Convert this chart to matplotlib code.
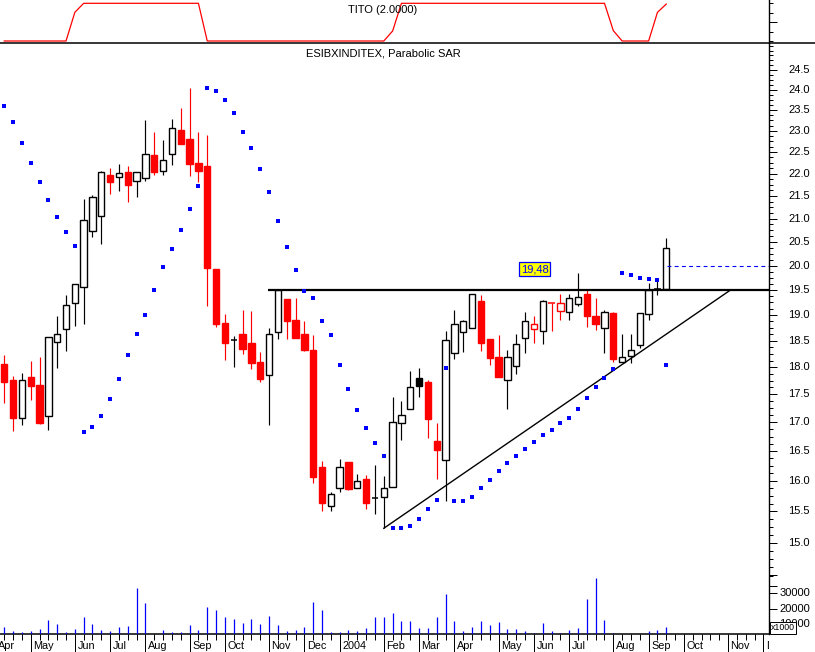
import numpy as np
import pandas as pd
import matplotlib
matplotlib.use("Agg")
import matplotlib.pyplot as plt
from matplotlib.patches import Rectangle
from matplotlib.lines import Line2D
from matplotlib.transforms import Bbox, TransformedBbox, blended_transform_factory, ScaledTranslation
from matplotlib.ticker import FixedLocator, NullFormatter

plt.rcParams['font.family'] = ['Liberation Sans', 'DejaVu Sans']

# ---------------- data (weekly bars, Fridays) ----------------
week_dates = pd.date_range('2003-04-11', periods=76, freq='W-FRI')
axis_dates = pd.date_range('2003-04-04', '2004-12-03', freq='W-FRI')

opens = [18.06, 17.76, 17.07, 17.82, 17.67, 17.11, 18.47, 18.72, 19.24, 19.56,
         20.73, 21.05, 21.97, 21.92, 22.04, 21.83, 21.90, 22.43, 22.06, 22.45,
         23.02, 22.81, 22.25, 22.18, 19.93, 18.85, 18.51, 18.63, 18.46, 18.10,
         17.85, 18.66, 19.32, 18.90, 18.63, 18.33, 16.23, 15.58, 15.88, 16.32,
         15.88, 16.03, 15.71, 15.73, 15.90, 16.98, 17.23, 17.80, 17.73, 16.68,
         16.34, 18.26, 18.66, 18.74, 19.28, 18.53, 18.19, 17.76, 18.02, 18.55,
         18.72, 18.68, 19.24, 19.09, 19.07, 19.21, 19.42, 18.98, 18.74, 19.04,
         18.10, 18.21, 18.41, 19.02, 19.52, 19.53]
highs = [18.23, 17.84, 17.89, 18.12, 18.19, 18.57, 18.98, 19.40, 19.62, 21.43,
         21.52, 22.06, 22.13, 22.23, 22.18, 22.03, 23.26, 22.97, 22.79, 23.29,
         23.55, 24.05, 22.97, 22.90, 19.93, 19.02, 18.59, 19.10, 19.08, 18.29,
         18.75, 19.53, 19.32, 19.34, 18.89, 18.61, 16.33, 15.81, 16.37, 16.32,
         16.11, 16.10, 16.27, 16.08, 17.46, 17.38, 17.93, 17.99, 17.76, 16.98,
         18.69, 19.10, 18.90, 19.41, 19.40, 18.53, 18.61, 18.32, 18.63, 19.06,
         18.98, 19.30, 19.24, 19.42, 19.43, 19.85, 19.50, 19.33, 19.10, 19.07,
         18.64, 18.63, 19.04, 19.64, 19.72, 20.58]
lows = [17.35, 16.84, 16.96, 17.40, 16.97, 16.87, 17.99, 18.31, 18.79, 18.83,
        20.61, 20.46, 21.55, 21.62, 21.37, 21.48, 21.84, 21.98, 21.98, 22.19,
        22.70, 21.96, 21.82, 19.17, 18.77, 18.14, 18.01, 18.25, 17.97, 17.72,
        16.96, 18.54, 18.54, 18.56, 18.31, 15.97, 15.50, 15.51, 15.82, 15.85,
        15.88, 15.53, 15.45, 15.23, 15.89, 16.69, 17.23, 17.46, 16.73, 16.03,
        15.67, 18.16, 18.29, 18.74, 18.31, 18.04, 17.81, 17.23, 17.87, 18.26,
        18.46, 18.44, 18.68, 18.90, 18.90, 19.17, 18.76, 18.71, 18.27, 18.09,
        18.10, 18.08, 18.36, 18.90, 19.40, 19.53]
closes = [17.73, 17.08, 17.76, 17.66, 16.98, 18.57, 18.63, 19.20, 19.62, 20.96,
          21.48, 22.05, 21.82, 22.01, 21.75, 22.03, 22.45, 22.05, 22.31, 23.06,
          22.70, 22.23, 22.07, 19.96, 18.83, 18.46, 18.51, 18.35, 18.07, 17.79,
          18.64, 19.50, 18.89, 18.56, 18.33, 16.07, 15.63, 15.78, 16.23, 15.86,
          15.99, 15.63, 15.71, 15.88, 17.00, 17.13, 17.63, 17.65, 17.05, 16.51,
          18.51, 18.82, 18.88, 19.41, 18.46, 18.18, 17.81, 18.19, 18.43, 18.88,
          18.82, 19.27, 19.24, 19.23, 19.33, 19.35, 18.98, 18.83, 19.06, 18.16,
          18.19, 18.32, 19.04, 19.51, 19.52, 20.36]
sar = [23.60, 23.21, 22.71, 22.24, 21.81, 21.40, 21.04, 20.70, 20.41, 16.83,
       16.91, 17.11, 17.41, 17.78, 18.23, 18.63, 19.00, 19.50, 19.97, 20.34,
       20.75, 21.20, 21.72, 24.05, 23.97, 23.75, 23.43, 22.97, 22.59, 22.11,
       21.59, 20.94, 20.39, 19.90, 19.49, 19.33, 18.89, 18.61, 18.05, 17.59,
       17.22, 16.90, 16.64, 16.41, 15.23, 15.23, 15.27, 15.38, 15.53, 15.69,
       17.98, 15.67, 15.67, 15.73, 15.88, 16.01, 16.16, 16.29, 16.42, 16.53,
       16.65, 16.77, 16.87, 16.98, 17.07, 17.23, 17.43, 17.63, 17.80, 17.96,
       19.85, 19.80, 19.75, 19.73, 19.71, 18.05]
volume = [8200, 5600, 4800, 5400, 6700, 12600, 10200, 5000, 6700, 14600,
          10200, 6100, 5400, 8000, 8700, 33500, 23700, 0, 5900, 4800,
          4800, 9300, 6100, 21100, 19200, 14600, 13300, 10700, 13300, 10000,
          15200, 9300, 5400, 6100, 8000, 24400, 19200, 4800, 4800, 6100,
          5400, 7400, 14600, 14600, 17200, 12000, 12000, 7400, 7400, 14600,
          29600, 12000, 5400, 8000, 12000, 9300, 11300, 6700, 6700, 5400,
          4100, 10800, 5400, 4100, 6100, 7400, 26300, 40100, 12600, 4100,
          0, 0, 0, 5400, 6100, 8000]
tito = [-1, -1, -1, -1, -1, -1, -1, -1, 0.52, 1,
        1, 1, 1, 1, 1, 1, 1, 1, 1, 1,
        1, 1, 1, -1, -1, -1, -1, -1, -1, -1,
        -1, -1, -1, -1, -1, -1, -1, -1, -1, -1,
        -1, -1, -1, -1, -0.47, 1, 1, 1, 1, 1,
        1, 1, 1, 1, 1, 1, 1, 1, 1, 1,
        1, 1, 1, 1, 1, 1, 1, 1, 1, -0.45,
        -1, -1, -1, -1, 0.52, 0.96]

price_ticks = [15.0, 15.5, 16.0, 16.5, 17.0, 17.5, 18.0, 18.5, 19.0, 19.5,
               20.0, 20.5, 21.0, 21.5, 22.0, 22.5, 23.0, 23.5, 24.0, 24.5]
volume_ticks = [10000, 20000, 30000]
tito_ticks = [0]
resistance = 19.5
resistance_from = 29.9          # bar index where the drawn line starts
trend_x = [43, 82.27]            # bar index of the trendline ends
trend_y = [15.23, 19.5]
sar_next = 20.0
price_tag = "19,48"
price_tag_pos = (60.07, 19.93)
title_top = "TITO (2.0000)"
title_main = "ESIBXINDITEX, Parabolic SAR"

# ---------------- figure layout ----------------
W, H = 815, 652
fig = plt.figure(figsize=(W / 100, H / 100), dpi=100)
fig.patch.set_facecolor('white')
PX = 0.72  # points per pixel


def rect(x0, y0, x1, y1):
    return [x0 / W, 1 - y1 / H, (x1 - x0) / W, (y1 - y0) / H]


RIGHT = 768.5
ax_t = fig.add_axes(rect(0, 0, RIGHT, 43))
ax_p = fig.add_axes(rect(0, 43, RIGHT, 634))
ax_v = fig.add_axes(rect(0, 560, RIGHT, 634), sharex=ax_p)

week_idx = np.arange(len(week_dates))
axis_idx = np.array([(d - week_dates[0]).days / 7 for d in axis_dates])
month_idx = [axis_idx[k] for k, d in enumerate(axis_dates) if d.day <= 7]
month_lab = [('2004' if d.month == 1 else d.strftime('%b')) for d in axis_dates if d.day <= 7]

XLIM = (-0.478, 86.58)
for a in (ax_t, ax_p, ax_v):
    a.set_xlim(*XLIM)
    a.set_facecolor('none')
    for s in a.spines.values():
        s.set_visible(False)

# ---------------- TITO panel ----------------
ax_t.plot(week_idx, tito, color='red', lw=0.9)
ax_t.set_ylim(-1.106, 1.175)
ax_t.spines['right'].set_visible(True)
ax_t.spines['right'].set_linewidth(1.0)
ax_t.yaxis.tick_right()
ax_t.yaxis.set_major_locator(FixedLocator(tito_ticks))
ax_t.yaxis.set_minor_locator(FixedLocator([-1, -0.5, 0.5, 1]))
ax_t.tick_params(axis='y', which='major', length=8 * PX, width=PX, labelright=False)
ax_t.tick_params(axis='y', which='minor', length=4 * PX, width=PX)
ax_t.tick_params(axis='x', which='both', bottom=False, labelbottom=False)
fig.text(383 / W, 1 - 10 / H, title_top, ha='center', va='center', fontsize=8)
fig.add_artist(Line2D([0, 1], [1 - 43 / H] * 2, transform=fig.transFigure,
                      color='black', lw=1.1))

# ---------------- price panel ----------------
ax_p.set_yscale('log')
ax_p.set_ylim(13.648, 25.196)
ax_p.spines['right'].set_visible(True)
ax_p.spines['right'].set_linewidth(1.0)
ax_p.spines['bottom'].set_visible(True)
ax_p.spines['bottom'].set_linewidth(1.1)
ax_p.yaxis.tick_right()
ax_p.yaxis.set_major_locator(FixedLocator(price_ticks))
ax_p.yaxis.set_minor_locator(FixedLocator(np.arange(14.5, 25.2, 0.125)))
ax_p.yaxis.set_minor_formatter(NullFormatter())
ax_p.tick_params(axis='y', which='major', length=8 * PX, width=PX, labelright=False)
ax_p.tick_params(axis='y', which='minor', length=4 * PX, width=PX)
ax_p.xaxis.set_major_locator(FixedLocator(month_idx))
ax_p.xaxis.set_minor_locator(FixedLocator(axis_idx))
ax_p.tick_params(axis='x', which='major', length=18 * PX, width=PX, direction='out',
                 labelbottom=False)
ax_p.tick_params(axis='x', which='minor', length=6 * PX, width=PX, direction='out')

ytr = blended_transform_factory(fig.transFigure, ax_p.transData)
for p in price_ticks:
    ax_p.text(810 / W, p, f'{p:.1f}', transform=ytr, ha='right', va='center',
              fontsize=8, clip_on=False)
fig.text(383 / W, 1 - 53 / H, title_main, ha='center', va='center', fontsize=8)

# candles
bw = 0.72
prev = None
for i in range(len(week_idx)):
    o, h, l, c = opens[i], highs[i], lows[i], closes[i]
    ref = o if prev is None else prev
    col = 'red' if c < ref else 'black'
    ax_p.vlines(i, l, h, color=col, lw=0.85, zorder=2)
    if abs(c - o) < 1e-9:
        ax_p.hlines(c, i - bw / 2, i + bw / 2, color=col, lw=1.1, zorder=3)
    else:
        face = col if c < o else 'white'
        ax_p.add_patch(Rectangle((i - bw / 2, min(o, c)), bw, abs(c - o),
                                 facecolor=face, edgecolor=col, lw=1.0, zorder=3))
    prev = c

ax_p.plot(week_idx, sar, 's', color='blue', ms=2.9, mew=0, zorder=5)
ax_p.hlines(resistance, resistance_from, XLIM[1], color='black', lw=1.6, zorder=4)
ax_p.plot(trend_x, trend_y, color='black', lw=1.0, zorder=4)
ax_p.hlines(sar_next, week_idx[-1] + 0.1, XLIM[1], color='blue', lw=0.8,
            linestyles=(0, (3.5, 3)), zorder=4)
ax_p.text(price_tag_pos[0], price_tag_pos[1], price_tag, ha='center', va='center',
          fontsize=8, color='blue', zorder=6,
          bbox=dict(boxstyle='square,pad=0.18', facecolor='yellow', edgecolor='blue', lw=0.9))

# month labels
lab_tr = blended_transform_factory(ax_p.transData, fig.transFigure) + \
    ScaledTranslation(2.5 / 100, 0, fig.dpi_scale_trans)
clipbox = TransformedBbox(Bbox([[0, 0], [RIGHT / W, 1]]), fig.transFigure)
for xi, lab in zip(month_idx, month_lab):
    t = fig.text(xi, 1 - 646 / H, lab, transform=lab_tr, ha='left', va='center',
                 fontsize=7.8)
    t.set_clip_box(clipbox)
    t.set_clip_on(True)

# ---------------- volume ----------------
ax_v.vlines(week_idx, 0, volume, color='blue', lw=0.9)
ax_v.set_ylim(3464, 51830)
ax_v.yaxis.tick_right()
ax_v.yaxis.set_major_locator(FixedLocator(volume_ticks))
ax_v.yaxis.set_minor_locator(FixedLocator([35000, 42000]))
ax_v.tick_params(axis='y', which='major', length=8 * PX, width=PX, labelright=False)
ax_v.tick_params(axis='y', which='minor', length=8 * PX, width=PX)
ax_v.tick_params(axis='x', which='both', bottom=False, labelbottom=False)
vtr = blended_transform_factory(fig.transFigure, ax_v.transData)
for v in volume_ticks:
    ax_v.text(810 / W, v, f'{v}', transform=vtr, ha='right', va='center',
              fontsize=8, clip_on=False)
fig.text(783 / W, 1 - 628 / H, 'x1000', ha='center', va='center', fontsize=6.3,
         bbox=dict(boxstyle='square,pad=0.15', facecolor='white', edgecolor='black', lw=0.7),
         zorder=10)

fig.savefig('out.png', dpi=100, facecolor='white')
